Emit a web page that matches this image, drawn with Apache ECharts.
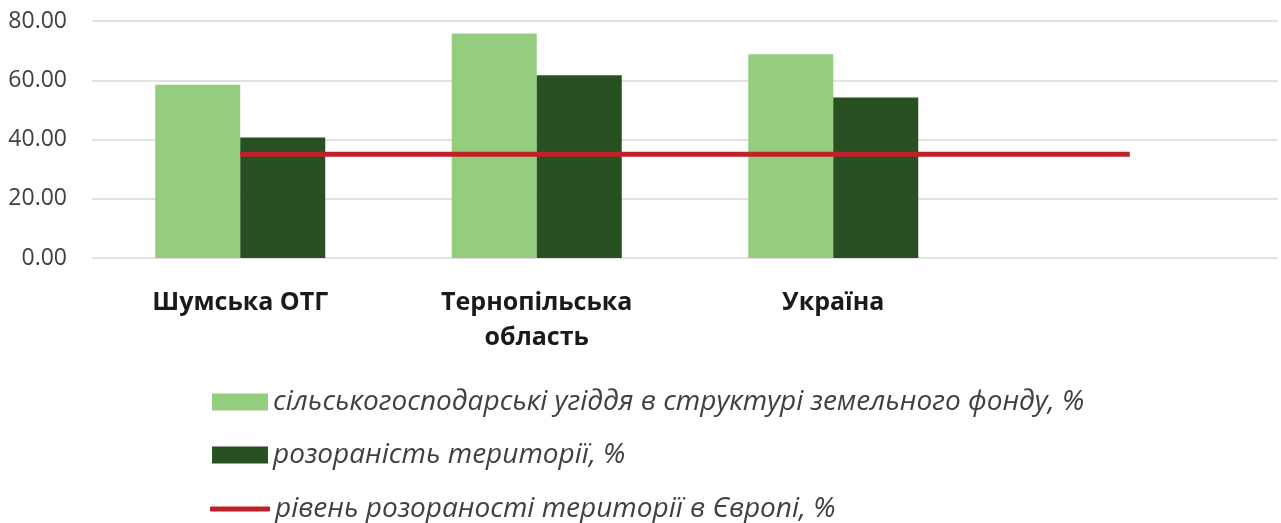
<!DOCTYPE html>
<html><head><meta charset="utf-8">
<script src="https://cdn.jsdelivr.net/npm/echarts@6/dist/echarts.min.js"></script>
<style>html,body{margin:0;padding:0;background:#fff}#c{width:1281px;height:523px}</style>
</head><body><div id="c"></div>
<script>
const categories = ['Шумська ОТГ', 'Тернопільська\nобласть', 'Україна', ''];
const agriLand = [58.5, 75.8, 68.8, null];
const plowed = [40.7, 61.7, 54.2, null];
const europeLevel = [35, 35, 35, 35];
const seriesNames = ['сільськогосподарські угіддя в структурі земельного фонду, %', 'розораність території, %', 'рівень розораності території в Європі, %'];

const chart = echarts.init(document.getElementById('c'));
const legendText = {fontFamily: 'Open Sans', fontStyle: 'italic', fontSize: 28, color: '#404040'};
chart.setOption({
  animation: false,
  grid: {left: 92, right: 3, top: 21, bottom: 265, containLabel: false},
  xAxis: {
    type: 'category', data: categories,
    axisLine: {show: false}, axisTick: {show: false},
    axisLabel: {fontFamily: 'Open Sans', fontWeight: 'bold', fontSize: 25, color: '#1a1a1a', margin: 27, lineHeight: 35, interval: 0}
  },
  yAxis: {
    type: 'value', min: 0, max: 80, interval: 20,
    axisLine: {show: false}, axisTick: {show: false},
    splitLine: {lineStyle: {color: '#d9d9d9', width: 1.5}},
    axisLabel: {fontFamily: 'Open Sans', fontSize: 23, color: '#404040', margin: 25, formatter: v => v.toFixed(2)}
  },
  legend: [
    {data: [seriesNames[0]], left: 207, top: 383, itemWidth: 56, itemHeight: 17, icon: 'rect', textStyle: legendText},
    {data: [seriesNames[1]], left: 207, top: 436, itemWidth: 56, itemHeight: 17, icon: 'rect', textStyle: legendText},
    {data: [seriesNames[2]], left: 205, top: 490, itemWidth: 60, itemHeight: 5, icon: 'roundRect', itemStyle: {color: '#C0202A'}, textStyle: legendText}
  ],
  series: [
    {name: seriesNames[0], type: 'bar', data: agriLand, barWidth: 85, barGap: '0%', itemStyle: {color: '#93CD7D'}},
    {name: seriesNames[1], type: 'bar', data: plowed, barWidth: 85, itemStyle: {color: '#285023'}},
    {name: seriesNames[2], type: 'line', data: europeLevel, symbol: 'none', lineStyle: {color: '#C0202A', width: 5}, itemStyle: {color: '#C0202A'}, z: 5}
  ]
});
</script></body></html>
